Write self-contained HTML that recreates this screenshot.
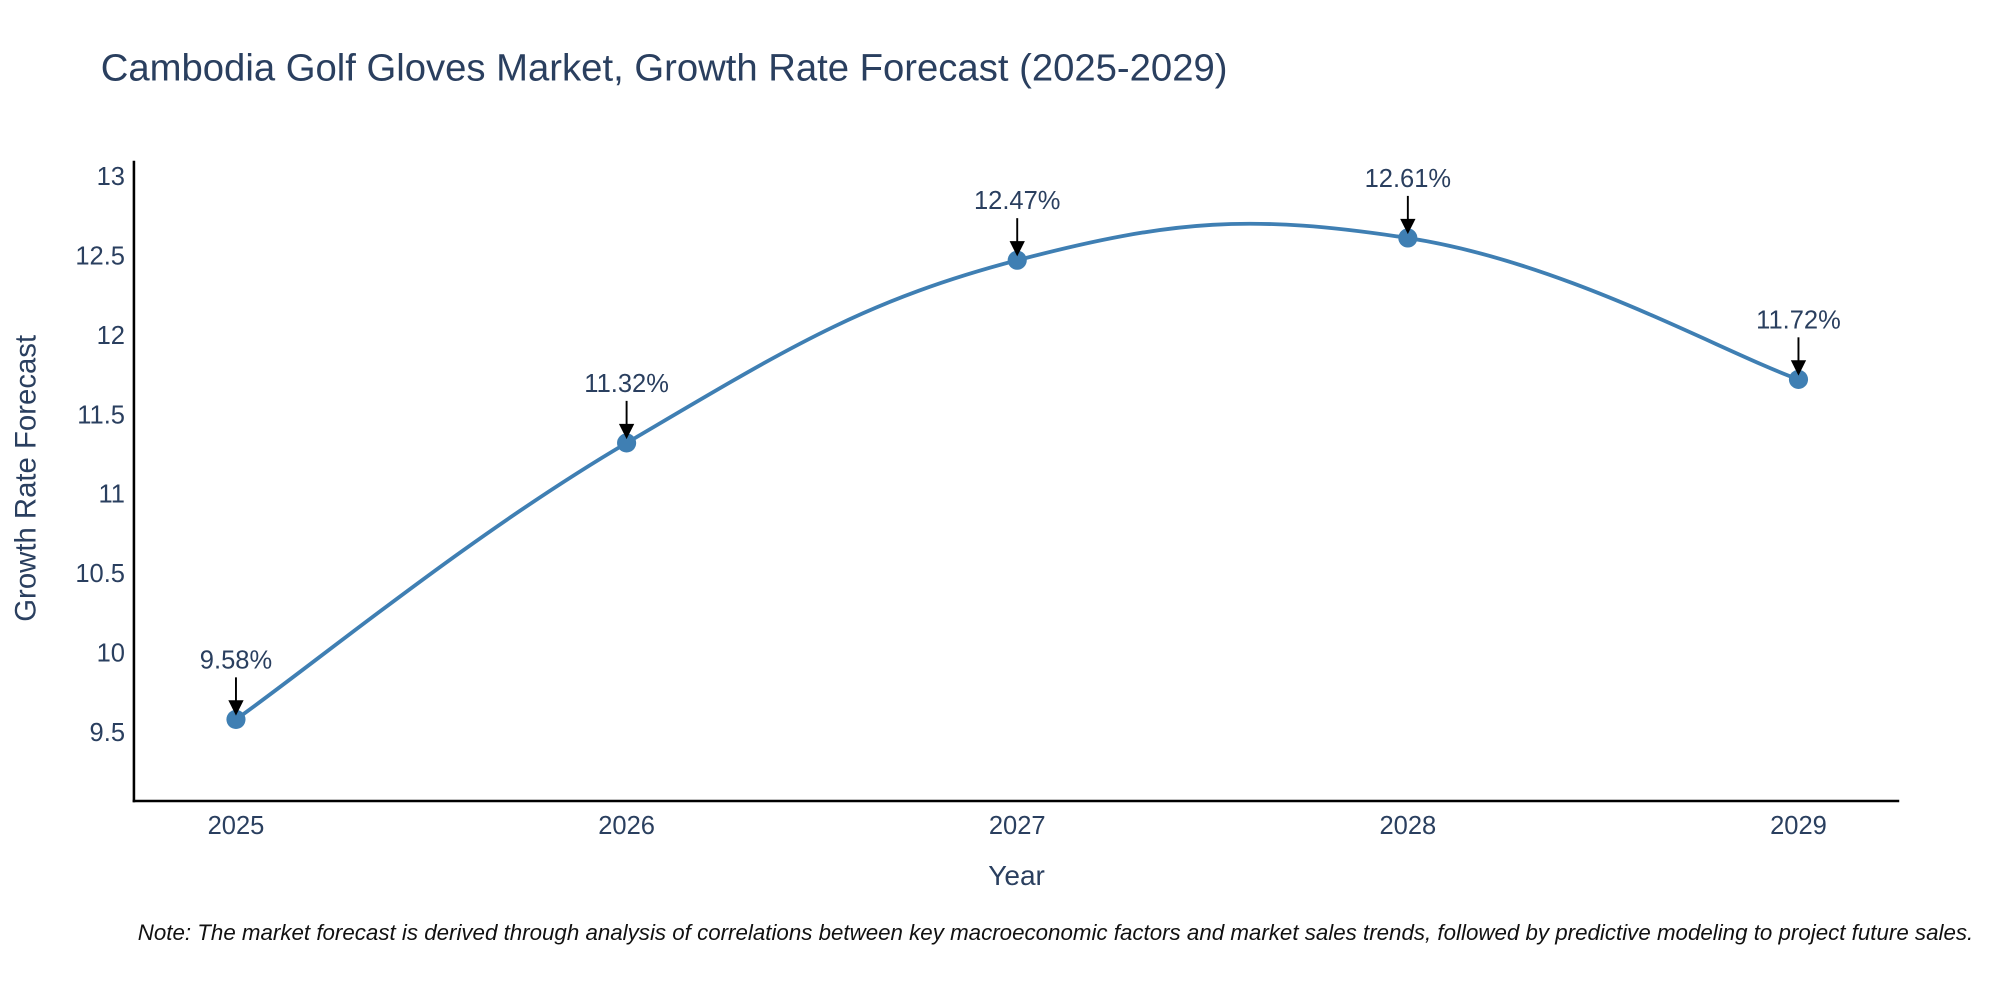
<!DOCTYPE html>
<html><head><meta charset="utf-8"><style>
html,body{margin:0;padding:0;background:#fff;}
svg{display:block;font-family:"Liberation Sans",sans-serif;}
</style></head><body>
<svg id="chart" width="2000" height="1000" viewBox="0 0 1568 784" xmlns="http://www.w3.org/2000/svg">
<text x="79" y="63" font-size="30" fill="#2a3f5f">Cambodia Golf Gloves Market, Growth Rate Forecast (2025-2029)</text>
<g id="yticks"></g><g id="xticks"></g>
<line x1="105" y1="126" x2="105" y2="629" stroke="#000" stroke-width="2"/>
<line x1="104" y1="628" x2="1489" y2="628" stroke="#000" stroke-width="2"/>
<path id="line" fill="none" stroke="#3f7fb3" stroke-width="3"/>
<g id="marks"></g>
<text x="797" y="694" font-size="22" fill="#2a3f5f" text-anchor="middle">Year</text>
<text transform="translate(28,375) rotate(-90)" font-size="23" fill="#2a3f5f" text-anchor="middle">Growth Rate Forecast</text>
<text x="108" y="737" font-size="17.5" font-style="italic" fill="#111">Note: The market forecast is derived through analysis of correlations between key macroeconomic factors and market sales trends, followed by predictive modeling to project future sales.</text>
</svg>
<script>
const years=[2025,2026,2027,2028,2029];
const values=[9.58,11.32,12.47,12.61,11.72];
const labels=["9.58%","11.32%","12.47%","12.61%","11.72%"];
const yTicks=[9.5,10,10.5,11,11.5,12,12.5,13];
const yTickLabels=["9.5","10","10.5","11","11.5","12","12.5","13"];
const NS="http://www.w3.org/2000/svg";
function xs(v){return 185+(v-2025)*306.25;}
function ys(v){return 574-(v-9.5)*124.57;}
function mk(t,a,p){const e=document.createElementNS(NS,t);for(const k in a)e.setAttribute(k,a[k]);p.appendChild(e);return e;}
const yg=document.getElementById('yticks');
yTicks.forEach((t,i)=>{const e=mk('text',{x:98,y:ys(t)+7,'font-size':20,fill:'#2a3f5f','text-anchor':'end'},yg);


e.textContent=yTickLabels[i];});
const xg=document.getElementById('xticks');
years.forEach(y=>{const e=mk('text',{x:xs(y),y:654,'font-size':20,fill:'#2a3f5f','text-anchor':'middle'},xg);


e.textContent=y;});
const P=years.map((y,i)=>[xs(y),ys(values[i])]);
let d='M'+P[0][0]+','+P[0][1];const s=1/5;
for(let i=0;i<P.length-1;i++){const p0=P[Math.max(i-1,0)],p1=P[i],p2=P[i+1],p3=P[Math.min(i+2,P.length-1)];
d+=' C'+(p1[0]+(p2[0]-p0[0])*s)+','+(p1[1]+(p2[1]-p0[1])*s)+' '+(p2[0]-(p3[0]-p1[0])*s)+','+(p2[1]-(p3[1]-p1[1])*s)+' '+p2[0]+','+p2[1];}
document.getElementById('line').setAttribute('d',d);
const mg=document.getElementById('marks');
P.forEach((p,i)=>{const c=mk('circle',{cx:p[0],cy:p[1],r:7.5,fill:'#3f7fb3'},mg);


const a=mk('line',{x1:p[0],y1:p[1]-33,x2:p[0],y2:p[1]-12,stroke:'#000','stroke-width':1.5},mg);


const h=mk('path',{d:'M'+(p[0]-6)+','+(p[1]-15)+' L'+(p[0]+6)+','+(p[1]-15)+' L'+p[0]+','+(p[1]-3)+' Z',fill:'#000'},mg);


const t=mk('text',{x:p[0],y:p[1]-40,'font-size':20,fill:'#2a3f5f','text-anchor':'middle'},mg);


t.textContent=labels[i];});
</script>
</body></html>
